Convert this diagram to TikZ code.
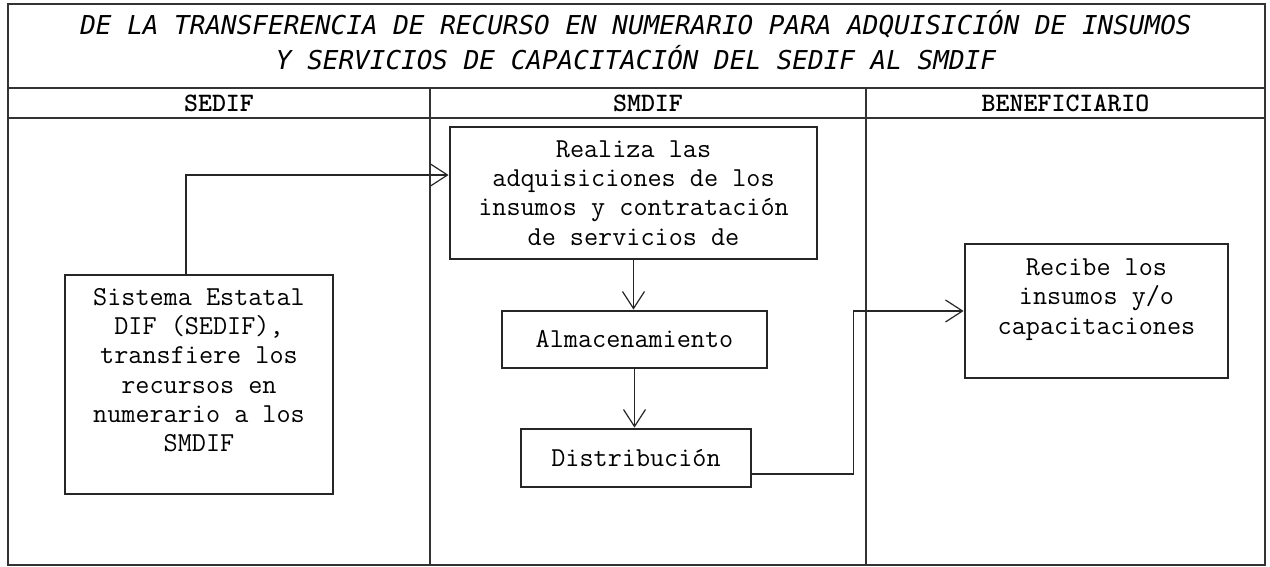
\documentclass[tikz,border=0pt]{standalone}
\usepackage{fontspec}
\newfontfamily\titlefont{DejaVu Sans Mono}
\usetikzlibrary{positioning,arrows.meta,calc}

\begin{document}
\begin{tikzpicture}[
  x=0.5pt, y=-0.5pt,
  font=\ttfamily\fontsize{13.7}{14.65}\selectfont,
  lane/.style={draw=black!80, line width=1pt},
  box/.style={draw=black!85, line width=1.4pt, align=center, inner sep=0pt},
  arr/.style={-{Straight Barb[length=8.5pt,width=11pt]}, line width=0.6pt, black!85},
  titulo/.style={font=\titlefont\itshape\fontsize{13}{17.5}\selectfont, align=center},
  head/.style={font=\ttfamily\bfseries\fontsize{13.3}{14}\selectfont}
]
\useasboundingbox (0,0) rectangle (1270,567);

% Marco y carriles
\draw[lane] (8,4) rectangle (1265,565);
\draw[lane] (8,88) -- (1265,88);
\draw[lane] (8,118) -- (1265,118);
\draw[lane] (430,88) -- (430,565);
\draw[lane] (866,88) -- (866,565);

% Título
\node[titulo] (tit) at (636,40) {DE LA TRANSFERENCIA DE RECURSO EN NUMERARIO PARA ADQUISICIÓN DE INSUMOS\\Y SERVICIOS DE CAPACITACIÓN DEL SEDIF AL SMDIF};

% Encabezados
\node[head] (hsedif) at (219,103) {SEDIF};
\node[head] (hsmdif) at (648,103) {SMDIF};
\node[head] (hbenef) at (1065.5,103) {BENEFICIARIO};

% Cajas
\node[box, minimum width=134pt, minimum height=109.5pt] (sedif) at (199,384.5) {Sistema Estatal\\DIF (SEDIF),\\transfiere los\\recursos en\\numerario a los\\SMDIF\\~};
\node[box, minimum width=183.5pt, minimum height=66pt] (realiza) at (633.5,193) {Realiza las\\adquisiciones de los\\insumos y contratación\\de servicios de};
\node[box, minimum width=132.5pt, minimum height=28.5pt] (almac) at (634.5,339.5) {Almacenamiento};
\node[box, minimum width=115pt, minimum height=29pt] (distrib) at (636,458) {Distribución};
\node[box, minimum width=131.5pt, minimum height=67pt] (recibe) at (1096.5,311) {Recibe los\\insumos y/o\\capacitaciones\\~};

% Conectores
\draw[arr] ([xshift=-6.5pt]sedif.north) |- ([yshift=9pt]realiza.west);
\draw[arr] (realiza.south) -- (realiza.south |- almac.north);
\draw[arr] (almac.south) -- (almac.south |- distrib.north);
\draw[arr] ([yshift=-8pt]distrib.east) -| ([xshift=-55pt]recibe.west) -- (recibe.west);

\end{tikzpicture}
\end{document}
